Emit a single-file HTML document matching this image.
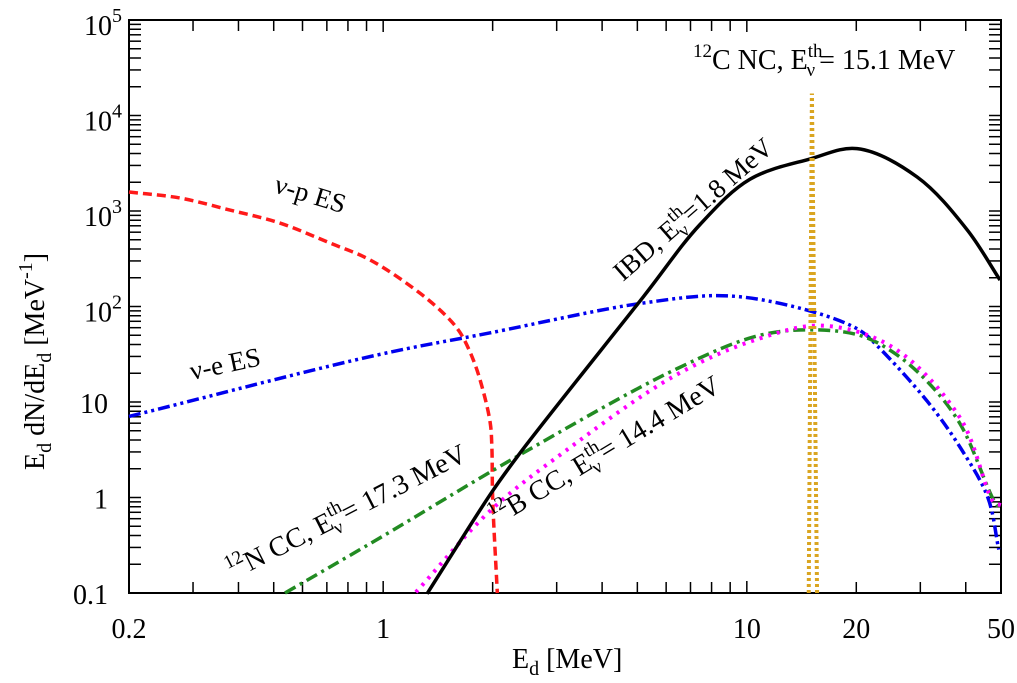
<!DOCTYPE html>
<html><head><meta charset="utf-8"><style>
html,body{margin:0;padding:0;background:#fff;}
svg{display:block;font-family:"Liberation Serif",serif;}
</style></head><body>
<svg id="chart" width="1017" height="683" viewBox="0 0 1017 683" xmlns="http://www.w3.org/2000/svg">
<g id="axes"></g>
<g id="series"></g>
<g font-size="27" fill="#000">
  <text transform="translate(273,192) rotate(17)">ν-p ES</text>
  <text transform="translate(192,380) rotate(-12)">ν-e ES</text>
  <text transform="translate(623,282) rotate(-41)">IBD, E<tspan font-size="19" dy="-12">th</tspan><tspan font-size="19" dx="-16" dy="19">ν</tspan><tspan dx="6" dy="-7">=1.8 MeV</tspan></text>
  <text transform="translate(233,580) rotate(-27)" font-size="28"><tspan font-size="19" dy="-12">12</tspan><tspan dy="12">N CC, E</tspan><tspan font-size="19" dy="-12">th</tspan><tspan font-size="19" dx="-16" dy="19">ν</tspan><tspan dx="6" dy="-7">= 17.3 MeV</tspan></text>
  <text transform="translate(497,526) rotate(-31)" font-size="28"><tspan font-size="19" dy="-12">12</tspan><tspan dy="12">B CC,  E</tspan><tspan font-size="19" dy="-12">th</tspan><tspan font-size="19" dx="-16" dy="19">ν</tspan><tspan dx="6" dy="-7">= 14.4 MeV</tspan></text>
  <text x="693" y="69" font-size="28"><tspan font-size="19" dy="-12">12</tspan><tspan dy="12">C NC, E</tspan><tspan font-size="19" dy="-12">th</tspan><tspan font-size="19" dx="-16" dy="19">ν</tspan><tspan dx="4" dy="-7">= 15.1 MeV</tspan></text>
  <text x="512" y="668" font-size="28">E<tspan font-size="20" dy="7">d</tspan><tspan dy="-7"> [MeV]</tspan></text>
  <text transform="translate(44,470) rotate(-90)" font-size="28">E<tspan font-size="20" dy="7">d</tspan><tspan dy="-7"> dN/dE</tspan><tspan font-size="20" dy="7">d</tspan><tspan dy="-7"> [MeV</tspan><tspan font-size="20" dy="-12">-1</tspan><tspan dy="12">]</tspan></text>
</g>
</svg>
<script>
const xTickVals=[0.2,1,10,20,50];
const xTickLabels=["0.2","1","10","20","50"];
const yTickVals=[0.1,1,10,100,1000,10000,100000];
const ibdE=[1.32,1.99,2.38,5.19,7.43,10.2,14.9,20.1,29.4,40.4,49.7];
const ibdV=[0.098,1.14,2.93,126,720,2150,3500,4500,2270,632,189];
const npE=[0.2,0.276,0.379,0.520,0.714,0.921,1.262,1.50,1.63,1.77,1.88,1.97,1.99,2.00,2.06];
const npV=[1581,1368,1023,748,462,307,138,77.6,52.8,27.5,13.4,6.0,3.4,1.0,0.1];
const neE=[0.2,0.96,1.97,5.21,8.95,15.2,20.5,22.8,31.4,38.7,46.0,49.3];
const neV=[7.06,31,53,109,129,88,56,39,10.1,3.3,1.0,0.285];
const nccE=[0.537,0.96,2.35,6.39,10.8,15.2,20.5,25.3,31.4,38.7,47.8,50];
const nccV=[0.1,0.361,2.73,22.1,49.7,57,49.7,33,16.3,5.8,0.93,0.74];
const bccE=[1.23,1.98,3.17,6.39,10.8,16.2,25.3,38.7,47.8,50];
const bccV=[0.102,0.74,3.07,19.2,46,63,37,6.7,0.89,0.83];
const ncE=[14.8,15.1,15.6];
const ncV=[0.1,17000,0.1];

const L=129,R=1001,T=20,B=593;
const X=e=>L+(Math.log10(e)-Math.log10(0.2))/(Math.log10(50)-Math.log10(0.2))*(R-L);
const Y=v=>B-(Math.log10(v)+1)/6*(B-T);
const NS="http://www.w3.org/2000/svg";
function mk(tag,attrs,parent){const el=document.createElementNS(NS,tag);for(const k in attrs)el.setAttribute(k,attrs[k]);parent.appendChild(el);return el;}
const ax=document.getElementById('axes');
const frame=mk('rect',{x:L,y:T,width:R-L,height:B-T,fill:'none',stroke:'#000','stroke-width':2},ax);


const xMinor=[0.3,0.4,0.5,0.6,0.7,0.8,0.9,2,3,4,5,6,7,8,9,20,30,40];
[1,10].concat(xMinor).forEach(v=>{const len=(v===1||v===10)?12:11;const x=X(v);
 const t1=mk('line',{x1:x,x2:x,y1:B,y2:B-len,stroke:'#000','stroke-width':1.5},ax);
 
 
 const t2=mk('line',{x1:x,x2:x,y1:T,y2:T+len,stroke:'#000','stroke-width':1.5},ax);
 
 });
xTickVals.forEach((v,i)=>{const t=mk('text',{x:X(v),y:638,'text-anchor':'middle','font-size':28},ax);t.textContent=xTickLabels[i];
 
 });
yTickVals.forEach((v,i)=>{const y=Y(v);
 [[L,L+12],[R,R-12]].forEach(p=>{const t=mk('line',{x1:p[0],x2:p[1],y1:y,y2:y,stroke:'#000','stroke-width':1.5},ax);
 
 });
 if(i<6){for(let m=2;m<=9;m++){const ym=Y(v*m);[[L,L+12],[R,R-12]].forEach(p=>{const t=mk('line',{x1:p[0],x2:p[1],y1:ym,y2:ym,stroke:'#000','stroke-width':1.5},ax);
 
 });}}
 const t=mk('text',{'text-anchor':'end','font-size':28},ax);
 
 
 if(v<=10){t.setAttribute('x',108);t.setAttribute('y',y+11);t.textContent=String(v);}
 else{t.setAttribute('x',122);t.setAttribute('y',y+15);t.textContent='10';const s=mk('tspan',{'font-size':20,dy:-13},t);s.textContent=String(Math.round(Math.log10(v)));}
});
const sg=document.getElementById('series');
function crPath(pts){const a=0.5;let d='M'+pts[0][0]+','+pts[0][1];
 const dist=(p,q)=>Math.max(Math.pow(Math.hypot(q[0]-p[0],q[1]-p[1]),a),1e-6);
 for(let i=0;i<pts.length-1;i++){
  const p1=pts[i],p2=pts[i+1];
  const p0=i>0?pts[i-1]:[2*p1[0]-p2[0],2*p1[1]-p2[1]];
  const p3=i+2<pts.length?pts[i+2]:[2*p2[0]-p1[0],2*p2[1]-p1[1]];
  const d1=dist(p0,p1),d2=dist(p1,p2),d3=dist(p2,p3);
  const c1=[0,1].map(k=>(d1*d1*p2[k]-d2*d2*p0[k]+(2*d1*d1+3*d1*d2+d2*d2)*p1[k])/(3*d1*(d1+d2)));
  const c2=[0,1].map(k=>(d3*d3*p1[k]-d2*d2*p3[k]+(2*d3*d3+3*d3*d2+d2*d2)*p2[k])/(3*d3*(d3+d2)));
  d+=' C'+c1[0]+','+c1[1]+' '+c2[0]+','+c2[1]+' '+p2[0]+','+p2[1];}
 return d;}
function series(E,V,color,dash,w,name){const pts=E.map((e,i)=>[X(e),Y(V[i])]);
 const p=mk('path',{d:crPath(pts),fill:'none',stroke:color,'stroke-width':w,'stroke-dasharray':dash},sg);
 
 }
series(npE,npV,'#ff1a1a','9,5',3.5,'nu-p-es-curve');
series(neE,neV,'#0000ee','12,4,3,4,3,4',3.5,'nu-e-es-curve');
series(nccE,nccV,'#228b22','12,5,3,5',3.5,'n12-cc-curve');
series(bccE,bccV,'#ff00ff','3,6',4,'b12-cc-curve');
series(ibdE,ibdV,'#000','none',3.5,'ibd-curve');
[[0,1],[2,1]].forEach(ix=>{const l=mk('line',{x1:X(ncE[ix[0]]),y1:Y(ncV[ix[0]]),x2:X(ncE[ix[1]]),y2:Y(ncV[ix[1]]),stroke:'#daa520','stroke-width':4,'stroke-dasharray':'3,3'},sg);
 
 });
</script>
</body></html>
